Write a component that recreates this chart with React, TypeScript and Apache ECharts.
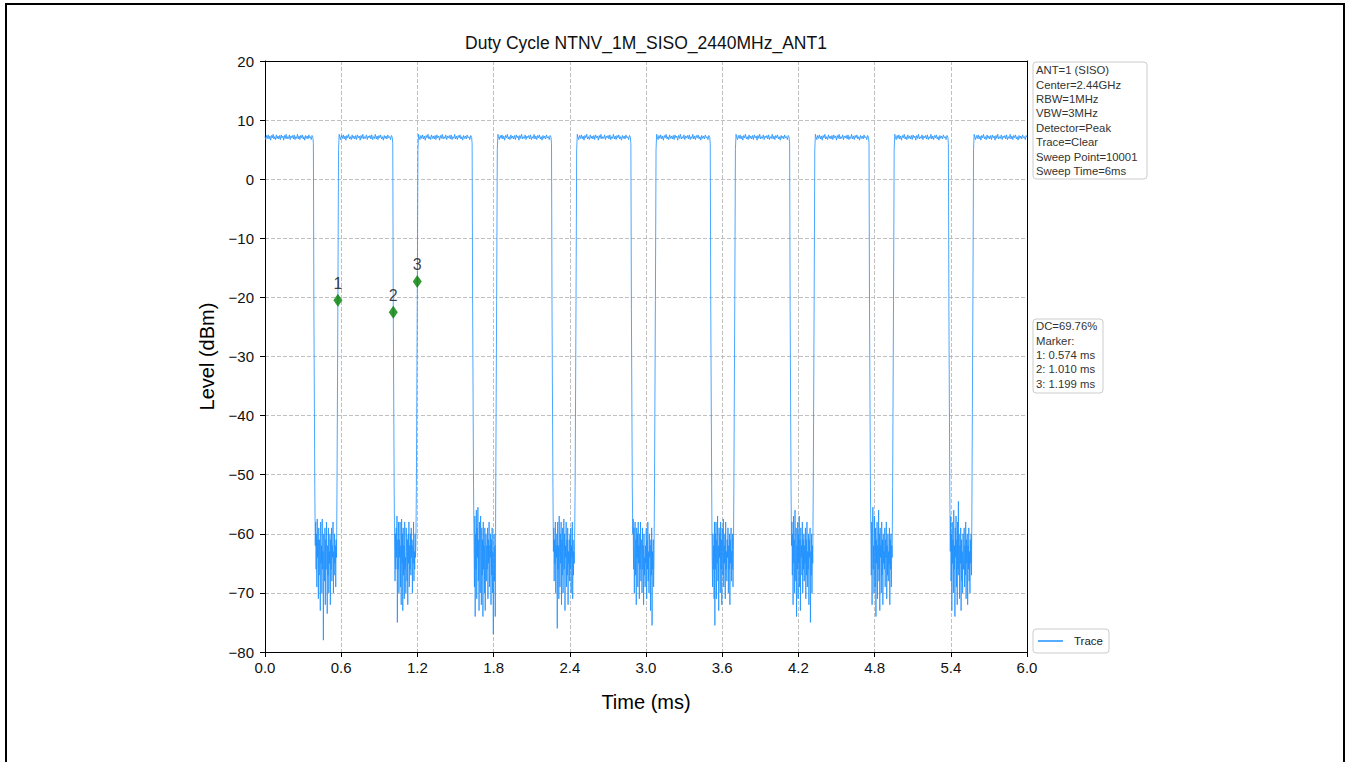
import React, { useEffect, useRef } from "react";
import * as echarts from "echarts";

// ---- data ----
const xTicks = ["0.0", "0.6", "1.2", "1.8", "2.4", "3.0", "3.6", "4.2", "4.8", "5.4", "6.0"];
const fallTimes = [0.385, 1.010, 1.635, 2.260, 2.885, 3.510, 4.135, 4.760, 5.385];
const riseTimes = [0.574, 1.199, 1.824, 2.449, 3.074, 3.699, 4.324, 4.949, 5.574];
const sweepEnd = 6.0;

const topLevels = [7.2, 6.7, 7.4, 6.9, 7.5, 6.8, 7.3, 6.6, 7.4, 7.0, 7.6, 6.8, 7.2, 6.7, 7.5, 6.9, 7.3, 6.8, 7.4, 6.7, 7.5, 7.0, 7.3, 6.6, 7.4, 6.9, 7.6, 6.8, 7.2, 6.9, 7.5, 6.7, 7.3, 7.0, 7.4, 6.8, 7.5, 6.7, 7.2, 6.9, 7.6, 6.8, 7.3, 6.7, 7.4, 7.0, 7.5, 6.8, 7.2, 6.6, 7.4, 6.9, 7.3, 6.8, 7.5, 7.0, 7.2, 6.7, 7.4, 7.1];

const gap1 = [-62, -58, -66, -60, -69, -57.5, -64, -61, -71, -59, -67, -61, -65, -73, -58, -65, -62, -70, -57.5, -66, -63, -78, -60, -64, -68, -59, -72, -61, -66, -58, -64, -73.5, -62, -67, -59, -70, -63, -65, -60, -72, -61, -66, -59, -68, -62, -64, -58, -70, -63, -67, -60, -65, -62, -69, -61, -64];
const gap2 = [-63, -68, -60, -66, -59, -64, -57, -75, -61, -66, -58, -70, -61, -64, -58, -69, -62, -72, -57.5, -65, -60, -73, -59, -67, -62, -71, -58, -66, -64, -70, -59, -63, -68, -61, -72, -60, -65, -58, -69, -62, -66, -60, -67, -59, -64, -61, -70, -62, -65, -58, -68, -63, -66, -60, -64, -62];
const gap3 = [-62, -69, -57, -74, -60, -66, -56, -71, -59, -64, -55.5, -68, -61, -73, -58, -65, -70, -57, -63, -72, -59, -67, -61, -74, -58, -66, -62, -70, -59, -73, -64, -60, -68, -62, -66, -59, -71, -61, -65, -58, -69, -62, -64, -60, -72, -61, -67, -59, -70, -63, -77, -64, -60, -68, -62, -74];
const gap4 = [-63, -59, -68, -61, -65, -58, -70, -62, -64, -60, -76, -58, -66, -62, -71, -57, -64, -69, -60, -65, -58, -72, -61, -67, -59, -70, -63, -57.5, -66, -60, -73, -62, -64, -58, -69, -61, -67, -59, -72, -63, -65, -61, -68, -60, -66, -59, -70, -62, -64, -58, -71, -61, -67, -63, -65, -61];
const gap5 = [-60, -57.5, -66, -59, -70, -62, -58, -67, -61, -72, -59, -64, -60, -69, -58, -65, -62, -71, -60, -66, -58, -68, -61, -63, -70, -59, -66, -62, -72, -60, -67, -64, -69, -62, -65, -59, -71, -61, -66, -58, -68, -63, -70, -60, -64, -62, -73, -61, -67, -59, -75.5, -63, -66, -61, -69, -64];
const gap6 = [-64, -69, -60, -66, -62, -71, -58, -75.5, -60, -66, -58, -71, -61, -65, -57, -68, -62, -73, -59, -64, -60, -70, -58, -66, -61, -72, -59, -63, -67, -57.5, -69, -62, -65, -60, -71, -58, -66, -63, -68, -61, -64, -59, -70, -62, -66, -60, -72, -61, -65, -59, -68, -63, -66, -60, -69, -64];
const gap7 = [-62, -58, -67, -60, -72, -57, -65, -61, -70, -56, -64, -68, -59, -74, -62, -66, -58, -71, -60, -65, -57, -69, -61, -73, -59, -64, -62, -67, -58, -70, -61, -66, -60, -68, -62, -65, -59, -71, -61, -67, -58, -69, -63, -66, -60, -72, -61, -64, -59, -75, -63, -67, -60, -70, -62, -65];
const gap8 = [-61, -67, -58, -72, -60, -55.5, -66, -62, -70, -57, -64, -69, -59, -74, -61, -65, -58, -71, -62, -66, -56, -68, -60, -73, -59, -64, -62, -70, -58, -67, -61, -72, -60, -65, -63, -66, -59, -69, -61, -64, -58, -71, -62, -67, -60, -68, -63, -65, -59, -72, -61, -66, -60, -69, -62, -64];
const gap9 = [-63, -57, -68, -60, -73, -58, -65, -61, -70, -56, -66, -62, -74, -59, -64, -57, -69, -61, -72, -58, -66, -54.5, -67, -60, -71, -62, -65, -59, -73, -61, -68, -63, -70, -60, -66, -64, -59, -69, -62, -67, -58, -71, -61, -65, -60, -72, -62, -66, -59, -68, -63, -70, -61, -65, -60, -67];
const gapLevels = [gap1, gap2, gap3, gap4, gap5, gap6, gap7, gap8, gap9];

const markerLabels = ["1", "2", "3"];
const markerTimes = [0.574, 1.010, 1.199];
const markerLevels = [-20.5, -22.5, -17.3];

const infoLines = ["ANT=1 (SISO)", "Center=2.44GHz", "RBW=1MHz", "VBW=3MHz", "Detector=Peak", "Trace=Clear", "Sweep Point=10001", "Sweep Time=6ms"];
const dutyCycle = "69.76%";

function buildTrace(): number[][] {
  const pts: number[][] = [];
  const addTop = (t0: number, t1: number) => {
    const n = topLevels.length;
    for (let i = 0; i < n; i++) pts.push([t0 + ((t1 - t0) * i) / (n - 1), topLevels[i]]);
  };
  addTop(0, fallTimes[0] - 0.008);
  for (let k = 0; k < fallTimes.length; k++) {
    const f = fallTimes[k];
    const r = riseTimes[k];
    pts.push([f - 0.004, 6.0], [f, -22], [f + 0.007, -52]);
    const g = gapLevels[k];
    const a = f + 0.011;
    const b = r - 0.011;
    for (let i = 0; i < g.length; i++) pts.push([a + ((b - a) * i) / (g.length - 1), g[i]]);
    pts.push([r - 0.007, -52], [r, -20.5], [r + 0.005, 5.0], [r + 0.01, 7.6]);
    const next = k + 1 < fallTimes.length ? fallTimes[k + 1] - 0.008 : sweepEnd;
    addTop(r + 0.014, next);
  }
  return pts;
}

const FONT = "'Liberation Sans', Arial, sans-serif";
const BLUE = "#1E90FF";

export default function App() {
  const ref = useRef<HTMLDivElement>(null);
  useEffect(() => {
    document.body.style.margin = "0";
    const chart = echarts.init(ref.current!, undefined, { renderer: "svg" });
    const trace = buildTrace();
    const markerText = ["DC=" + dutyCycle, "Marker:"].concat(
      markerTimes.map((t, i) => `${markerLabels[i]}: ${t.toFixed(3)} ms`)
    );
    const split = { show: true, lineStyle: { color: "#b0b0b0", type: [4, 2], width: 0.8 } };
    chart.setOption({
      animation: false,
      backgroundColor: "#fff",
      textStyle: { fontFamily: FONT },
      grid: { left: 265, top: 61, width: 762, height: 591 },
      xAxis: [
        {
          type: "value",
          min: 0,
          max: 6,
          interval: 0.6,
          name: "Time (ms)",
          nameLocation: "middle",
          nameGap: 40,
          nameTextStyle: { fontSize: 20, color: "#000", fontFamily: FONT },
          axisLine: { show: true, onZero: false, lineStyle: { color: "#000", width: 1 } },
          axisTick: { show: true, length: 5, lineStyle: { color: "#000" } },
          axisLabel: {
            fontSize: 15,
            color: "#111",
            margin: 8,
            fontFamily: FONT,
            formatter: (v: number) => xTicks[Math.round(v / 0.6)] ?? v.toFixed(1),
          },
          splitLine: split,
        },
        {
          type: "value",
          position: "top",
          min: 0,
          max: 6,
          axisLine: { show: true, onZero: false, lineStyle: { color: "#000", width: 1 } },
          axisTick: { show: false },
          axisLabel: { show: false },
          splitLine: { show: false },
        },
      ],
      yAxis: [
        {
          type: "value",
          min: -80,
          max: 20,
          interval: 10,
          name: "Level (dBm)",
          nameLocation: "middle",
          nameGap: 48,
          nameTextStyle: { fontSize: 20, color: "#000", fontFamily: FONT },
          axisLine: { show: true, onZero: false, lineStyle: { color: "#000", width: 1 } },
          axisTick: { show: true, length: 5, lineStyle: { color: "#000" } },
          axisLabel: {
            fontSize: 15,
            color: "#111",
            margin: 11,
            fontFamily: FONT,
            formatter: (v: number) => String(v).replace("-", "\u2212"),
          },
          splitLine: split,
        },
        {
          type: "value",
          position: "right",
          min: -80,
          max: 20,
          axisLine: { show: true, onZero: false, lineStyle: { color: "#000", width: 1 } },
          axisTick: { show: false },
          axisLabel: { show: false },
          splitLine: { show: false },
        },
      ],
      legend: {
        data: [{ name: "Trace", icon: "rect" }],
        left: 1033,
        top: 629,
        orient: "vertical",
        itemWidth: 25,
        itemHeight: 1.5,
        padding: [6, 6, 6, 5],
        borderColor: "#ccc",
        borderWidth: 1,
        borderRadius: 3,
        backgroundColor: "#fff",
        itemStyle: { color: BLUE, borderWidth: 0 },
        textStyle: { fontSize: 11.5, color: "#222", fontFamily: FONT, padding: [0, 0, 0, 6] },
      },
      series: [
        {
          name: "Trace",
          type: "line",
          data: trace,
          symbol: "none",
          showSymbol: false,
          lineStyle: { color: BLUE, width: 0.8 },
          itemStyle: { color: BLUE },
          z: 2,
        },
        {
          name: "Markers",
          type: "scatter",
          data: markerTimes.map((t, i) => ({ value: [t, markerLevels[i]], name: markerLabels[i] })),
          symbol: "diamond",
          symbolSize: [9, 13],
          itemStyle: { color: "#008000" },
          label: {
            show: true,
            position: "top",
            distance: 2,
            formatter: "{b}",
            fontSize: 16,
            color: "#111",
            fontFamily: FONT,
          },
          z: 5,
        },
      ],
      graphic: [
        {
          type: "rect",
          shape: { x: 6, y: 4, width: 1338, height: 820 },
          style: { fill: "none", stroke: "#000", lineWidth: 2 },
          silent: true,
        },
        {
          type: "text",
          x: 646,
          y: 43,
          style: {
            text: "Duty Cycle NTNV_1M_SISO_2440MHz_ANT1",
            fontSize: 17.5,
            fontFamily: FONT,
            fill: "#111",
            textAlign: "center",
            textVerticalAlign: "middle",
          },
        },
        {
          type: "group",
          children: [
            {
              type: "rect",
              shape: { x: 1033, y: 62, width: 114, height: 117, r: 3 },
              style: { fill: "#fff", stroke: "#ccc", lineWidth: 1 },
            },
            {
              type: "text",
              x: 1036,
              y: 63,
              style: {
                text: infoLines.join("\n"),
                fontSize: 11.3,
                lineHeight: 14.4,
                fontFamily: FONT,
                fill: "#333",
                textVerticalAlign: "top",
              },
            },
          ],
        },
        {
          type: "group",
          children: [
            {
              type: "rect",
              shape: { x: 1033, y: 319, width: 70, height: 74, r: 3 },
              style: { fill: "#fff", stroke: "#ccc", lineWidth: 1 },
            },
            {
              type: "text",
              x: 1036,
              y: 319,
              style: {
                text: markerText.join("\n"),
                fontSize: 11.3,
                lineHeight: 14.4,
                fontFamily: FONT,
                fill: "#333",
                textVerticalAlign: "top",
              },
            },
          ],
        },
      ],
    });
    return () => chart.dispose();
  }, []);
  return <div ref={ref} style={{ position: "fixed", left: 0, top: 0, width: 1349, height: 762 }} />;
}
